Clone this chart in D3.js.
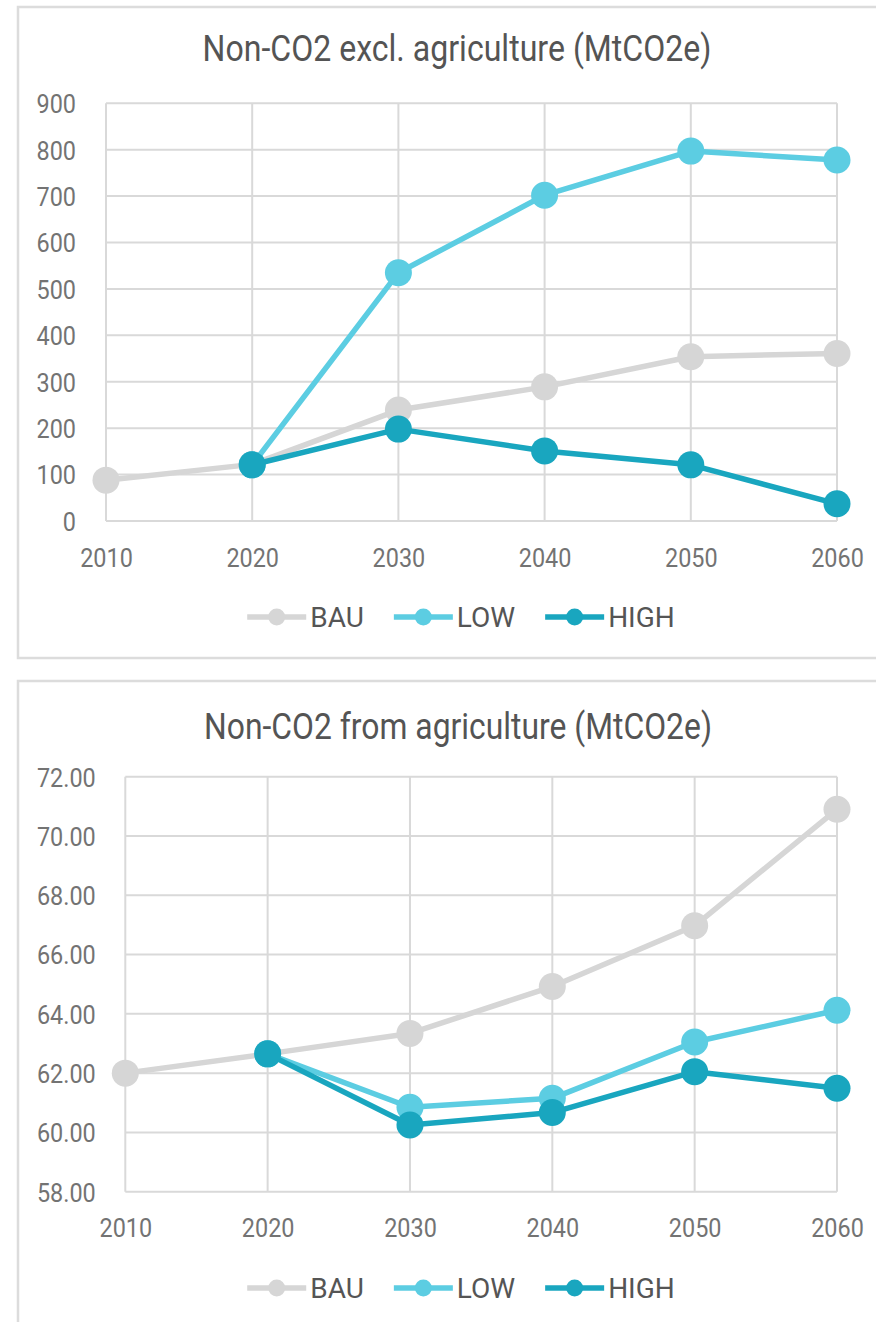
<!DOCTYPE html>
<html>
<head>
<meta charset="utf-8">
<script src="https://cdn.jsdelivr.net/npm/d3@7"></script>
<style>
  html, body { margin: 0; padding: 0; background: #ffffff; }
  svg { display: block; font-family: Roboto, "Noto Sans", sans-serif; }
</style>
</head>
<body>
<svg id="chart" width="876" height="1322"></svg>
<script>
// Scenario years on the x axis
const years = [2010, 2020, 2030, 2040, 2050, 2060];
const seriesNames = ["BAU", "LOW", "HIGH"];

// Non-CO2 excluding agriculture (MtCO2e)
const nonAgBAU  = [88, 122, 239, 289, 354, 361];
const nonAgLOW  = [null, 121, 535, 702, 797, 778];
const nonAgHIGH = [null, 121, 198, 151, 121, 37];
const nonAgTicks = [0, 100, 200, 300, 400, 500, 600, 700, 800, 900];

// Non-CO2 from agriculture (MtCO2e)
const agBAU  = [62.0, 62.65, 63.34, 64.92, 66.97, 70.9];
const agLOW  = [null, 62.65, 60.85, 61.15, 63.05, 64.12];
const agHIGH = [null, 62.65, 60.25, 60.67, 62.05, 61.49];
const agTicks = [58, 60, 62, 64, 66, 68, 70, 72];

const colors = { BAU: "#d6d6d6", LOW: "#5ccde2", HIGH: "#19a6bf" };
const gridColor = "#d9d9d9";

const svg = d3.select("#chart");

// Squeeze a text node horizontally to mimic a condensed face
function condense(sel, factor) {
  sel.each(function () {
    const w = this.getComputedTextLength();
    d3.select(this).attr("textLength", w * factor).attr("lengthAdjust", "spacingAndGlyphs");
  });
}

function drawPanel(p) {
  const g = svg.append("g");

  // panel frame
  g.append("rect")
    .attr("x", p.box.x).attr("y", p.box.y)
    .attr("width", p.box.w).attr("height", p.box.h)
    .attr("fill", "#fff").attr("stroke", "#dcdcdc").attr("stroke-width", 2.5);

  // title
  g.append("text")
    .attr("x", p.titleX).attr("y", p.titleY)
    .attr("text-anchor", "middle")
    .attr("font-size", 36).attr("fill", "#545454")
    .attr("textLength", p.titleW).attr("lengthAdjust", "spacingAndGlyphs")
    .text(p.title);

  const x = d3.scaleLinear().domain([years[0], years[years.length - 1]]).range(p.xRange);
  const y = d3.scaleLinear().domain([p.ticks[0], p.ticks[p.ticks.length - 1]]).range(p.yRange);

  // horizontal grid
  g.append("g").selectAll("line").data(p.ticks).join("line")
    .attr("x1", p.xRange[0]).attr("x2", p.xRange[1])
    .attr("y1", d => y(d)).attr("y2", d => y(d))
    .attr("stroke", gridColor).attr("stroke-width", 2);

  // vertical grid
  g.append("g").selectAll("line").data(years).join("line")
    .attr("x1", d => x(d)).attr("x2", d => x(d))
    .attr("y1", p.yRange[0]).attr("y2", p.yRange[1])
    .attr("stroke", gridColor).attr("stroke-width", 2);

  // y axis labels
  const yAxis = d3.axisLeft(y).tickValues(p.ticks).tickFormat(p.fmt).tickSize(0).tickPadding(0);
  const ya = g.append("g").attr("transform", `translate(${p.yLabelRight},0)`).call(yAxis);
  ya.select(".domain").remove();
  ya.selectAll("text")
    .attr("font-size", 26).attr("fill", "#737373")
    .attr("font-family", "Roboto, sans-serif")
    .attr("dy", "0.36em");
  condense(ya.selectAll("text"), 0.9);

  // x axis labels
  const xAxis = d3.axisBottom(x).tickValues(years).tickFormat(d3.format("d")).tickSize(0).tickPadding(0);
  const xa = g.append("g").attr("transform", `translate(0,${p.xLabelBase})`).call(xAxis);
  xa.select(".domain").remove();
  xa.selectAll("text")
    .attr("font-size", 26).attr("fill", "#737373")
    .attr("font-family", "Roboto, sans-serif")
    .attr("y", 0).attr("dy", 0);
  condense(xa.selectAll("text"), 0.9);

  // series
  const line = d3.line()
    .defined(d => d.v != null)
    .x(d => x(d.year)).y(d => y(d.v));

  seriesNames.forEach((name, i) => {
    const pts = years.map((yr, j) => ({ year: yr, v: p.series[i][j] }));
    const sg = g.append("g");
    sg.append("path")
      .datum(pts)
      .attr("d", line)
      .attr("fill", "none")
      .attr("stroke", colors[name])
      .attr("stroke-width", 5.5)
      .attr("stroke-linejoin", "round");
    sg.selectAll("circle").data(pts.filter(d => d.v != null)).join("circle")
      .attr("cx", d => x(d.year)).attr("cy", d => y(d.v))
      .attr("r", 13.5)
      .attr("fill", colors[name]);
  });

  // legend
  const lg = g.append("g");
  let cursor = 0;
  seriesNames.forEach(name => {
    const it = lg.append("g");
    it.append("line")
      .attr("x1", 0).attr("x2", 59)
      .attr("y1", 0).attr("y2", 0)
      .attr("stroke", colors[name]).attr("stroke-width", 5.5);
    it.append("circle").attr("cx", 29.5).attr("cy", 0).attr("r", 8.5).attr("fill", colors[name]);
    const t = it.append("text")
      .attr("x", 63).attr("y", 0).attr("dy", "0.36em")
      .attr("font-size", 28).attr("fill", "#555555")
      .text(name);
    const w = 63 + t.node().getComputedTextLength();
    it.attr("transform", `translate(${cursor},0)`);
    cursor += w + 30;
  });
  const total = cursor - 30;
  lg.attr("transform", `translate(${p.legendCx - total / 2},${p.legendY})`);
}

drawPanel({
  box: { x: 18, y: 7, w: 890, h: 651 },
  title: "Non-CO2 excl. agriculture (MtCO2e)",
  titleX: 457, titleY: 61, titleW: 509,
  xRange: [106, 837], yRange: [521, 103.3],
  ticks: nonAgTicks, fmt: d3.format("d"),
  yLabelRight: 76, xLabelBase: 566.5,
  series: [nonAgBAU, nonAgLOW, nonAgHIGH],
  legendCx: 461, legendY: 617
});

drawPanel({
  box: { x: 18, y: 681, w: 890, h: 660 },
  title: "Non-CO2 from agriculture (MtCO2e)",
  titleX: 458, titleY: 739, titleW: 508,
  xRange: [125.3, 837], yRange: [1191.7, 776.7],
  ticks: agTicks, fmt: d3.format(".2f"),
  yLabelRight: 95.7, xLabelBase: 1237,
  series: [agBAU, agLOW, agHIGH],
  legendCx: 461, legendY: 1288
});
</script>
</body>
</html>
